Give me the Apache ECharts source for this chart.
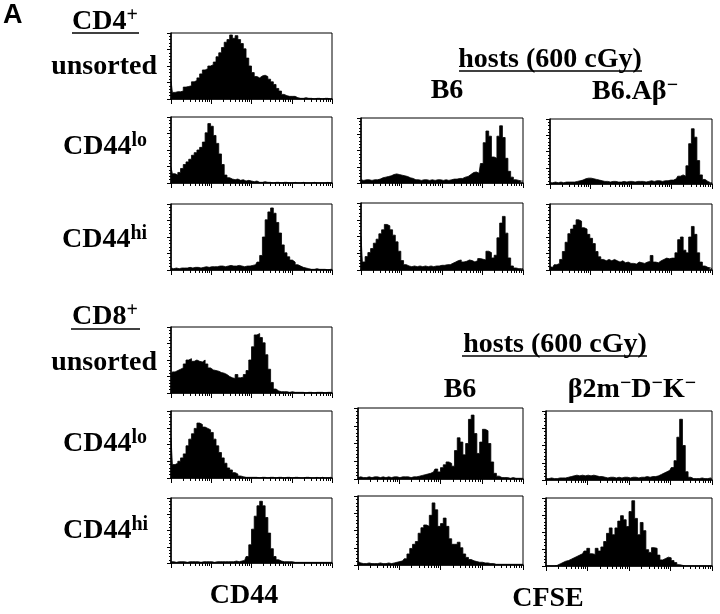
<!DOCTYPE html>
<html>
<head>
<meta charset="utf-8">
<script src="https://cdn.jsdelivr.net/npm/echarts@6/dist/echarts.min.js"></script>
<style>
html, body { margin: 0; padding: 0; background: #fff; }
#chart { width: 720px; height: 614px; }
</style>
</head>
<body>
<div id="chart"></div>
<script>
// 60 channels per histogram, spread over 4 log decades
const channels = Array.from({ length: 60 }, (_, i) => i)
// x tick marks, in decades (log10 of intensity)
const decadeTicks = [0, 1, 2, 3, 4]
const minorTicks = [0, 1, 2, 3].flatMap(d => [2, 3, 4, 5, 6, 7, 8, 9].map(k => d + Math.log10(k)))

// CD44 staining, left column
const cd4Unsorted = [28,10,11,11,12,18,19,20,26,28, 32,38,44,46,50,52,56,64,70,78, 86,90,97,92,96,90,84,76,62,50, 40,34,32,35,36,34,30,26,22,16, 12,7,5,4,4,4,2,1,1,2, 1,1,0,1,1,0,1,1,0,1]
const cd4Lo = [24,14,12,16,22,28,32,36,42,46, 50,54,62,76,90,86,72,60,44,28, 12,8,6,5,6,4,5,3,4,3, 2,3,1,1,2,1,1,0,1,1, 0,1,1,0,0,1,0,0,1,0, 0,0,1,0,0,0,0,1,0,0]
const cd4Hi = [3,2,3,2,3,3,3,4,3,4, 4,3,4,5,4,5,5,5,6,6, 5,6,7,6,6,7,6,5,6,6, 7,8,12,22,50,76,88,94,86,72, 56,38,26,20,15,12,8,6,4,3, 2,1,1,2,1,1,1,0,1,1]
const cd8Unsorted = [28,32,34,36,38,44,50,52,48,50, 48,47,50,44,38,35,34,33,31,30, 28,25,23,22,28,23,24,28,34,50, 70,88,90,84,76,58,36,16,6,3, 2,2,2,1,2,1,1,1,1,0, 1,1,0,1,1,1,0,1,1,0]
const cd8Lo = [60,20,22,25,30,36,48,58,66,74, 82,80,76,74,72,68,58,48,38,30, 22,15,12,8,6,3,2,1,1,1, 1,1,0,1,1,0,1,1,0,1, 1,0,1,1,0,1,1,0,0,1, 1,0,0,1,0,1,0,0,1,0]
const cd8Hi = [2,2,1,2,2,2,1,2,2,2, 2,1,2,2,2,2,1,2,2,2, 2,2,2,2,3,2,3,4,10,28, 52,72,88,95,88,70,46,22,10,5, 3,2,2,2,2,1,1,1,1,1, 1,1,1,1,1,1,1,1,1,1]

// CFSE dilution in hosts (600 cGy)
const b6Cd4Lo = [5,4,5,5,4,5,5,6,8,9, 10,11,13,14,13,12,11,10,8,7, 5,5,4,5,5,4,5,4,5,5, 4,5,4,5,6,6,7,7,9,10, 13,16,17,15,30,62,80,72,40,38, 72,88,70,38,18,9,5,4,3,3]
const abCd4Lo = [2,2,3,2,3,2,3,3,3,3, 4,5,6,8,9,9,8,7,6,5, 4,4,3,4,4,3,3,4,3,4, 4,3,4,4,4,3,4,5,4,5, 5,4,5,5,6,6,8,12,14,12, 28,62,85,72,36,14,7,4,2,2]
const b6Cd4Hi = [50,12,20,26,32,40,46,54,60,68, 66,60,52,42,28,14,8,6,5,6, 5,6,5,6,5,6,5,6,6,7, 7,8,8,10,12,14,15,12,13,15, 14,12,14,17,16,15,28,26,18,22, 48,70,80,55,18,6,3,2,2,2]
const abCd4Hi = [5,4,8,10,16,28,42,55,62,68, 76,74,64,62,54,48,40,28,20,16, 14,16,14,16,14,12,14,11,12,10, 10,9,12,11,10,12,13,22,12,11, 14,16,18,17,18,18,26,46,50,30, 26,50,66,54,26,12,6,4,3,2]
const b6Cd8Lo = [2,3,2,2,3,2,3,3,2,3, 2,3,2,3,3,2,3,3,3,2, 3,3,4,5,6,7,8,10,14,10, 16,20,24,22,18,40,58,52,34,50, 84,90,64,36,52,70,68,50,24,8, 4,2,2,2,1,2,1,1,1,1]
const b2mCd8Lo = [2,2,3,2,2,3,3,3,4,5, 6,7,6,7,6,7,6,7,6,5, 5,4,3,4,4,3,4,3,4,4, 3,4,4,3,4,4,5,4,5,5, 6,8,10,12,14,18,28,62,88,50, 12,4,2,2,2,3,2,2,3,2]
const b6Cd8Hi = [5,3,2,2,3,2,2,2,3,2, 2,3,2,3,4,5,6,9,16,24, 30,34,46,54,58,56,72,90,80,56, 60,68,56,38,30,30,33,25,16,11, 8,6,5,4,4,3,3,2,2,1, 1,1,1,1,1,1,1,1,1,1]
const b2mCd8Hi = [0,0,0,0,1,3,5,7,8,10, 12,14,16,18,22,26,18,17,26,22, 28,36,48,56,46,56,66,74,68,58, 80,96,70,46,64,52,24,20,27,26, 16,9,11,13,12,8,5,2,1,0, 0,0,0,0,0,0,0,0,0,0]

// panel boxes: left, top, width, height
const panels = [
  { data: cd4Unsorted, box: [171, 33, 161, 66] },
  { data: cd4Lo, box: [171, 117, 161, 66] },
  { data: cd4Hi, box: [171, 204, 161, 66] },
  { data: cd8Unsorted, box: [171, 327, 161, 66] },
  { data: cd8Lo, box: [171, 411, 161, 67] },
  { data: cd8Hi, box: [171, 498, 161, 65] },
  { data: b6Cd4Lo, box: [361, 118, 162, 65] },
  { data: b6Cd4Hi, box: [361, 203, 162, 67] },
  { data: b6Cd8Lo, box: [358, 408, 165, 71] },
  { data: b6Cd8Hi, box: [358, 496, 165, 69] },
  { data: abCd4Lo, box: [550, 119, 162, 65] },
  { data: abCd4Hi, box: [550, 204, 162, 66] },
  { data: b2mCd8Lo, box: [546, 411, 166, 69] },
  { data: b2mCd8Hi, box: [546, 498, 166, 68] },
]

const serif = "'Liberation Serif', 'Times New Roman', serif"
const big = { fontSize: 28, fontWeight: 'bold', fontFamily: serif, fill: '#000', verticalAlign: 'bottom', lineHeight: 30 }
const sup = { fontSize: 20, fontWeight: 'bold', fontFamily: serif, fill: '#000', verticalAlign: 'top', lineHeight: 30 }

function label(text, x, y, align) {
  return {
    type: 'text', x: x, y: y, silent: true,
    style: { text: text, align: align || 'left', verticalAlign: 'middle', rich: { m: big, s: sup }, fill: '#000' }
  }
}
function underline(x1, y, x2) {
  return { type: 'line', silent: true, shape: { x1: x1, y1: y, x2: x2, y2: y }, style: { stroke: '#000', lineWidth: 1.5 } }
}

const black = { color: '#000' }

// log axis ticks do not draw in this build, so ticks sit on a value axis in decades
function tickAxis(i, values, len, showLine) {
  return {
    type: 'value', gridIndex: i, min: 0, max: 4, position: 'bottom',
    axisLine: { show: showLine, onZero: false, lineStyle: { color: '#000', width: 1.5 } },
    axisTick: { show: true, length: len, customValues: values, lineStyle: black },
    axisLabel: { show: false },
    splitLine: { show: false }
  }
}

const myChart = echarts.init(document.getElementById('chart'))
myChart.setOption({
  animation: false,
  backgroundColor: '#fff',
  grid: panels.map(p => ({
    left: p.box[0], top: p.box[1], width: p.box[2], height: p.box[3],
    show: true, borderColor: '#000', borderWidth: 1, backgroundColor: '#fff',
    outerBoundsMode: 'none'
  })),
  xAxis: panels.flatMap((p, i) => [
    { type: 'category', gridIndex: i, data: channels, boundaryGap: false, show: false },
    tickAxis(i, decadeTicks, 5, true),
    tickAxis(i, minorTicks, 3, false)
  ]),
  yAxis: panels.map((p, i) => ({
    type: 'value', gridIndex: i, min: 0, max: 100, interval: 25,
    axisLine: { show: true, lineStyle: { color: '#000', width: 1.5 } },
    axisTick: { show: true, length: 4, lineStyle: black },
    minorTick: { show: true, splitNumber: 5, length: 2, lineStyle: black },
    axisLabel: { show: false },
    splitLine: { show: false }
  })),
  series: panels.map((p, i) => ({
    type: 'line', xAxisIndex: 3 * i, yAxisIndex: i, data: p.data,
    step: 'middle', symbol: 'none', silent: true,
    lineStyle: { color: '#000', width: 0.8 },
    areaStyle: { color: '#000', opacity: 1 }
  })),
  graphic: [
    { type: 'text', x: 3, y: 16, silent: true, style: { text: 'A', font: "bold 27px 'Liberation Sans', Arial, sans-serif", fill: '#000', verticalAlign: 'middle' } },
    label('{m|CD4}{s|+}', 72, 21),
    underline(72, 33, 139),
    label('{m|unsorted}', 157, 66, 'right'),
    label('{m|CD44}{s|lo}', 63, 146),
    label('{m|CD44}{s|hi}', 62, 239),
    label('{m|CD8}{s|+}', 72, 316),
    underline(71, 329, 140),
    label('{m|unsorted}', 157, 362, 'right'),
    label('{m|CD44}{s|lo}', 63, 443),
    label('{m|CD44}{s|hi}', 63, 530),
    label('{m|CD44}', 244, 595, 'center'),
    label('{m|CFSE}', 548, 598, 'center'),
    label('{m|hosts (600 cGy)}', 550, 59, 'center'),
    underline(459, 71, 642),
    label('{m|B6}', 447, 90, 'center'),
    label('{m|B6.Aβ}{s|−}', 635, 91, 'center'),
    label('{m|hosts (600 cGy)}', 555, 344, 'center'),
    underline(462, 356, 647),
    label('{m|B6}', 460, 389, 'center'),
    label('{m|β2m}{s|−}{m|D}{s|−}{m|K}{s|−}', 632, 389, 'center')
  ]
})
window.addEventListener('resize', () => { myChart.resize() })
</script>
</body>
</html>
